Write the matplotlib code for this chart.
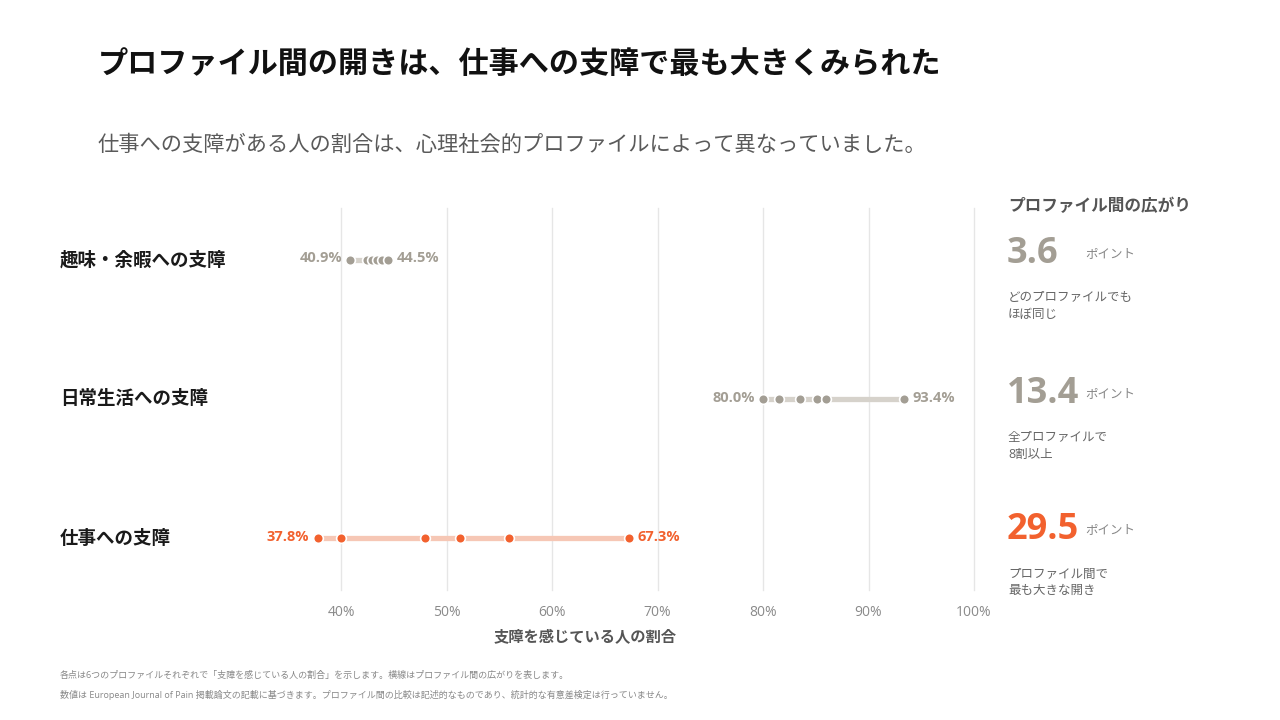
import numpy as np
import matplotlib.pyplot as plt

plt.rcParams['font.family'] = ['Open Sans', 'Noto Sans CJK JP', 'DejaVu Sans']

# data
rows = ["趣味・余暇への支障", "日常生活への支障", "仕事への支障"]
values = [
    [40.9, 42.5, 42.9, 43.4, 43.9, 44.5],
    [80.0, 81.5, 83.5, 85.1, 86.0, 93.4],
    [37.8, 40.0, 48.0, 51.3, 55.9, 67.3],
]
spreads = ["3.6", "13.4", "29.5"]
notes = [["どのプロファイルでも", "ほぼ同じ"],
         ["全プロファイルで", "8割以上"],
         ["プロファイル間で", "最も大きな開き"]]
ticks = [40, 50, 60, 70, 80, 90, 100]
tick_labels = ["40%", "50%", "60%", "70%", "80%", "90%", "100%"]

GRAY = "#A39E94"
GRAY_LINE = "#D6D2CB"
ORANGE = "#F2612E"
ORANGE_LINE = "#F6C7B5"
dot_col = [GRAY, GRAY, ORANGE]
line_col = [GRAY_LINE, GRAY_LINE, ORANGE_LINE]


def px(x, y):
    return x / 1280, 1 - y / 720


fig = plt.figure(figsize=(12.8, 7.2), dpi=100)

# axes: 30% at x=235.5px, 100% at 974px; rows at y=260,400,539
left, right = 235.5, 974
top, bottom = 208, 590
ax = fig.add_axes([left / 1280, 1 - bottom / 720, (right - left) / 1280, (bottom - top) / 720])
ax.set_xlim(30, 100)
ax.set_ylim(2.37, -0.37)
for t in ticks:
    ax.axvline(t, color="#E6E6E6", lw=1, zorder=0, clip_on=False)
for s in ax.spines.values():
    s.set_visible(False)
ax.set_yticks([])
ax.set_xticks([])

for i, vals in enumerate(values):
    ax.plot([min(vals), max(vals)], [i, i], color=line_col[i], lw=3.8,
            solid_capstyle="butt", zorder=1)
    ax.plot(vals, [i] * len(vals), "o", color=dot_col[i], ms=7,
            mec="white", mew=1.2, zorder=2)
    ax.annotate(f"{min(vals):.1f}%", (min(vals), i), xytext=(-6, 1),
                textcoords="offset points", ha="right", va="center",
                fontsize=10.5, fontweight="bold", color=dot_col[i])
    ax.annotate(f"{max(vals):.1f}%", (max(vals), i), xytext=(6, 1),
                textcoords="offset points", ha="left", va="center",
                fontsize=10.5, fontweight="bold", color=dot_col[i])

# tick labels
for t, lab in zip(ticks, tick_labels):
    xf = (left + (t - 30) / 70 * (right - left)) / 1280
    fig.text(xf, px(0, 612)[1], lab, ha="center", va="center",
             fontsize=10, color="#8A8A8A")
fig.text(*px(585, 638), "支障を感じている人の割合", ha="center", va="center",
         fontsize=11, fontweight="bold", color="#555555")

# row labels
for i, r in enumerate(rows):
    fig.text(*px(60, 260 + i * 139.5), r, ha="left", va="center",
             fontsize=13.3, fontweight="bold", color="#1A1A1A")

# title and subtitle
fig.text(*px(98, 65), "プロファイル間の開きは、仕事への支障で最も大きくみられた",
         ha="left", va="center", fontsize=21.7, fontweight="bold", color="#111111")
fig.text(*px(98, 145), "仕事への支障がある人の割合は、心理社会的プロファイルによって異なっていました。",
         ha="left", va="center", fontsize=15.3, color="#5A5A5A")

# right panel
fig.text(*px(1008, 206), "プロファイル間の広がり", ha="left", va="center",
         fontsize=12, fontweight="bold", color="#555555")
num_y = [254, 394, 530]
for i in range(3):
    c = ORANGE if i == 2 else GRAY
    fig.text(*px(1007, num_y[i]), spreads[i], ha="left", va="center",
             fontsize=26, fontweight="bold", color=c)
    fig.text(*px(1085, num_y[i]), "ポイント", ha="left", va="center",
             fontsize=9, color="#888888")
    for k, line in enumerate(notes[i]):
        fig.text(*px(1008, num_y[i] + 44 + k * 16), line, ha="left", va="center",
                 fontsize=9, color="#666666")

# footnotes
fig.text(*px(60, 675), "各点は6つのプロファイルそれぞれで「支障を感じている人の割合」を示します。横線はプロファイル間の広がりを表します。",
         ha="left", va="center", fontsize=6.5, color="#888888")
fig.text(*px(60, 695), "数値は European Journal of Pain 掲載論文の記載に基づきます。プロファイル間の比較は記述的なものであり、統計的な有意差検定は行っていません。",
         ha="left", va="center", fontsize=6.5, color="#888888")

fig.savefig("out.png", dpi=100, facecolor="white")
